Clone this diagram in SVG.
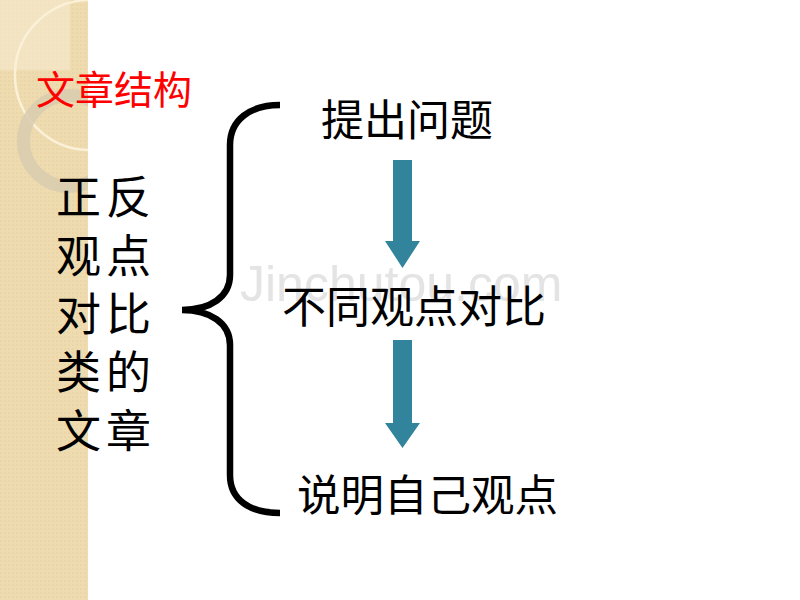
<svg xmlns="http://www.w3.org/2000/svg" width="800" height="600" viewBox="0 0 800 600">
  <defs>
    <style>
      .cjk { font-family: "Noto Sans CJK SC", "Noto Sans", sans-serif; fill: #000; }
      .arrow { fill: #31849b; }
    </style>
    <clipPath id="stripClip"><rect x="0" y="0" width="88" height="600"/></clipPath>
    <pattern id="dots" width="4" height="4" patternUnits="userSpaceOnUse">
      <rect width="4" height="4" fill="#eedbb0"/>
      <rect x="0" y="0" width="2" height="2" fill="#ead6a8"/>
    </pattern>
  </defs>
  <rect x="0" y="0" width="800" height="600" fill="#ffffff"/>

  <g id="strip" clip-path="url(#stripClip)">
    <rect x="0" y="0" width="88" height="600" fill="url(#dots)"/>
    <rect x="0" y="0" width="70" height="70" fill="#f6ead0" opacity="0.6"/>
    <circle cx="90" cy="75" r="75" fill="none" stroke="#fbf1d8" stroke-width="2.5"/>
    <circle cx="69" cy="141" r="45.5" fill="none" stroke="#d8ccb0" stroke-width="13" opacity="0.85"/>
  </g>

  <text id="watermark" x="240" y="301" font-family="Liberation Sans, Arial, sans-serif" font-size="50" fill="#e4e4e4">Jinchutou.com</text>

  <g id="title">
    <text x="36" y="104" class="cjk" font-size="39" style="fill:#ff0000">文章结构</text>
  </g>

  <g id="category" class="cjk" font-size="45" letter-spacing="5">
    <text x="56" y="214" class="cjk">正反</text>
    <text x="56" y="273" class="cjk">观点</text>
    <text x="56" y="331" class="cjk">对比</text>
    <text x="56" y="389" class="cjk">类的</text>
    <text x="56" y="448" class="cjk">文章</text>
  </g>

  <g id="connectors">
    <path id="brace" d="M280,105 C250,105 230,120 230,145 L230,275 C230,297 210,310 182,310 C210,310 230,323 230,345 L230,475 C230,500 250,513 280,513" fill="none" stroke="#000" stroke-width="6.5" stroke-linecap="butt"/>
    <path id="arrow1" class="arrow" d="M393,160 L412,160 L412,241 L420,241 L402.5,268 L385,241 L393,241 Z"/>
    <path id="arrow2" class="arrow" d="M393,340 L412,340 L412,423 L420,423 L402.5,448 L385,423 L393,423 Z"/>
  </g>

  <g id="step1">
    <text x="321" y="136" class="cjk" font-size="43">提出问题</text>
  </g>
  <g id="step2">
    <text x="282" y="323" class="cjk" font-size="44">不同观点对比</text>
  </g>
  <g id="step3">
    <text x="297" y="511" class="cjk" font-size="43.5">说明自己观点</text>
  </g>
</svg>
